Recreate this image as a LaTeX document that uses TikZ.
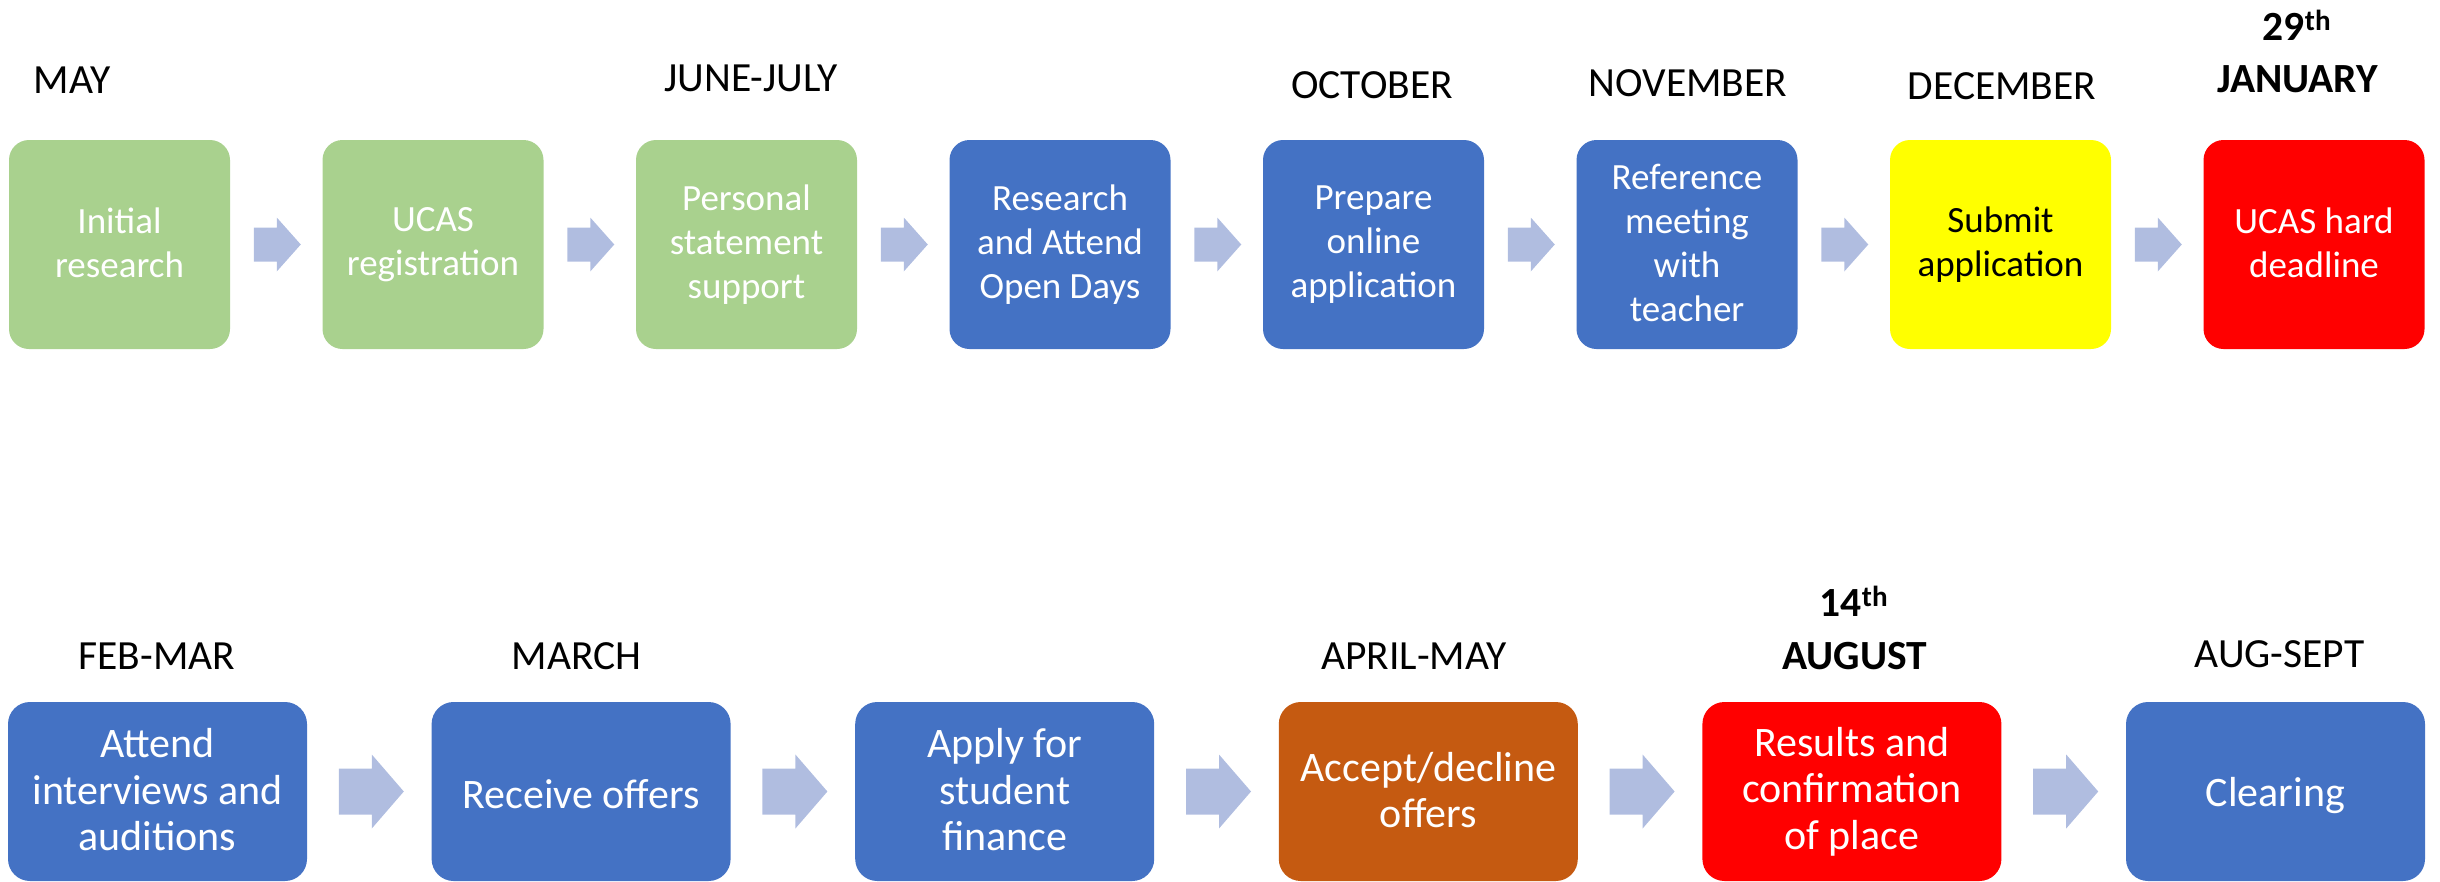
\documentclass[tikz,border=0pt]{standalone}
\usepackage{fontspec}
\setmainfont{Carlito}
\usetikzlibrary{calc}
\definecolor{cgreen}{HTML}{A9D18E}
\definecolor{cblue}{HTML}{4472C4}
\definecolor{cyellow}{HTML}{FFFF00}
\definecolor{cred}{HTML}{FF0000}
\definecolor{corange}{HTML}{C55A11}
\definecolor{carrow}{HTML}{B0BDE0}
\newcommand\mystrut{\rule[-0.08em]{0pt}{0.97em}}
\begin{document}
\begin{tikzpicture}[x=1pt,y=-1pt,
  tbox/.style={rounded corners=20pt, minimum width=221pt, minimum height=209pt, inner sep=0pt, align=center, text=white, font=\fontsize{37pt}{44pt}\selectfont, execute at begin node=\mystrut, execute at end node=\mystrut},
  bbox/.style={rounded corners=22pt, minimum width=299pt, minimum height=179pt, inner sep=0pt, align=center, text=white, font=\fontsize{42pt}{46.5pt}\selectfont, execute at begin node=\mystrut, execute at end node=\mystrut},
  lab/.style={anchor=base, inner sep=0pt, font=\fontsize{41.5pt}{48pt}\selectfont},
  blab/.style={anchor=base, inner sep=0pt, font=\fontsize{41.5pt}{48pt}\selectfont\bfseries},
  arr/.style={fill=carrow, draw=none}]
\useasboundingbox (0,0) rectangle (2440,881);

% top row boxes
\node[tbox, fill=cgreen] (t1) at (119.5,244.5) {Initial\\research};
\node[tbox, fill=cgreen] (t2) at (433,244.5) {UCAS\\registration};
\node[tbox, fill=cgreen] (t3) at (746.5,244.5) {Personal\\statement\\support};
\node[tbox, fill=cblue] (t4) at (1060,244.5) {Research\\and Attend\\Open Days};
\node[tbox, fill=cblue] (t5) at (1373.5,244.5) {Prepare\\online\\application};
\node[tbox, fill=cblue] (t6) at (1687,244.5) {Reference\\meeting\\with\\teacher};
\node[tbox, fill=cyellow, text=black] (t7) at (2000.5,244.5) {Submit\\application};
\node[tbox, fill=cred] (t8) at (2314,244.5) {UCAS hard\\deadline};

% top labels
\node[lab] (lt1) at (72,93) {MAY};
\node[lab] (lt3) at (751,91) {JUNE-JULY};
\node[lab] (lt5) at (1372,98) {OCTOBER};
\node[lab] (lt6) at (1688,96) {NOVEMBER};
\node[lab] (lt7) at (2002,99) {DECEMBER};
\node[blab] (lt8) at (2297.5,92) {JANUARY};
\node[blab] (lt8d) at (2297,40) {29\textsuperscript{th}};

% bottom row boxes
\node[bbox, fill=cblue] (b1) at (157.5,791.5) {Attend\\interviews and\\auditions};
\node[bbox, fill=cblue] (b2) at (581.1,791.5) {Receive offers};
\node[bbox, fill=cblue] (b3) at (1004.7,791.5) {Apply for\\student\\finance};
\node[bbox, fill=corange] (b4) at (1428.3,791.5) {Accept/decline\\offers};
\node[bbox, fill=cred] (b5) at (1851.9,791.5) {Results and\\confirmation\\of place};
\node[bbox, fill=cblue] (b6) at (2275.5,791.5) {Clearing};

% bottom labels
\node[lab] (lb1) at (157,669) {FEB-MAR};
\node[lab] (lb2) at (576.5,669) {MARCH};
\node[lab] (lb4) at (1414,669) {APRIL-MAY};
\node[blab] (lb5) at (1854.5,669) {AUGUST};
\node[blab] (lb5d) at (1854,616) {14\textsuperscript{th}};
\node[lab] (lb6) at (2279.5,667) {AUG-SEPT};

% top arrows
\foreach \a/\b in {t1/t2,t2/t3,t3/t4,t4/t5,t5/t6,t6/t7,t7/t8}
  \fill[arr] ($(\a.east)!0.5!(\b.west)$) ++(-22.5,-17) -- ++(23,0) -- ++(0,-10) -- ++(24,27) -- ++(-24,27) -- ++(0,-10) -- ++(-23,0) -- cycle;

% bottom arrows
\foreach \a/\b in {b1/b2,b2/b3,b3/b4,b4/b5,b5/b6}
  \fill[arr] ($(\a.east)!0.5!(\b.west)$) ++(-30.5,-23) -- ++(33,0) -- ++(0,-14) -- ++(32,37) -- ++(-32,37) -- ++(0,-14) -- ++(-33,0) -- cycle;
\end{tikzpicture}
\end{document}
